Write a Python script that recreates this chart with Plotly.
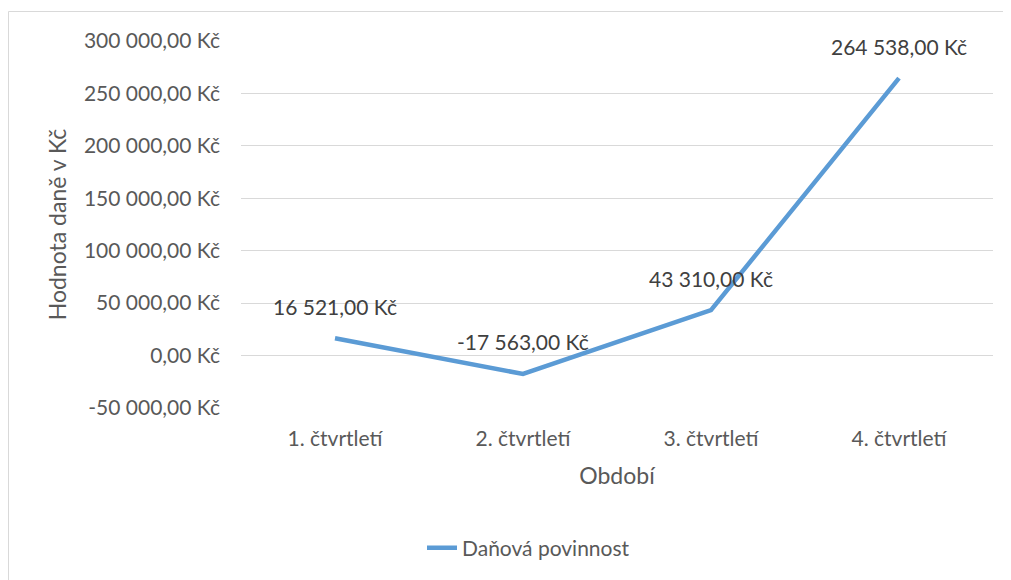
import plotly.graph_objects as go

categories = ["1. čtvrtletí", "2. čtvrtletí", "3. čtvrtletí", "4. čtvrtletí"]
values = [16521, -17563, 43310, 264538]
series_name = "Daňová povinnost"
tick_values = [-50000, 0, 50000, 100000, 150000, 200000, 250000, 300000]


def fmt_czk(v):
    s = f"{abs(v):,.2f}".replace(",", " ").replace(".", ",")
    return ("-" if v < 0 else "") + s + " Kč"


tick_text = [fmt_czk(v) for v in tick_values]

FONT = "Lato, 'Open Sans', sans-serif"
GRAY = "#595959"

# page body has an 8px margin; positions below are given in viewport pixels
OFFX, OFFY = 8, 8
W, H = 1011, 580
L = 241 - OFFX
T = 41 - OFFY
R = W - (993 - OFFX)
B = H - (408 - OFFY)
pw = W - L - R
ph = H - T - B


def vx(px):  # viewport px -> paper x
    return (px - OFFX - L) / pw


def vy(py):  # viewport px -> paper y
    return (H - B - (py - OFFY)) / ph


fig = go.Figure()
fig.add_trace(go.Scatter(
    x=categories, y=values, mode="lines", name=series_name,
    line=dict(color="#5B9BD5", width=4.5), showlegend=True,
))

for c, v in zip(categories, values):
    fig.add_annotation(x=c, y=v, text=fmt_czk(v), showarrow=False, yshift=32,
                       font=dict(family=FONT, size=21, color="#404040"))

# chart-area border (only top and left edges are visible in the reference)
border = dict(color="#D9D9D9", width=1)
fig.add_shape(type="line", xref="paper", yref="paper",
              x0=vx(8.5), x1=vx(1011), y0=vy(11.5), y1=vy(11.5), line=border, layer="below")
fig.add_shape(type="line", xref="paper", yref="paper",
              x0=vx(8.5), x1=vx(8.5), y0=vy(11.5), y1=vy(580), line=border, layer="below")

fig.update_layout(
    width=W, height=H,
    margin=dict(l=L, r=R, t=T, b=B, pad=0),
    paper_bgcolor="white", plot_bgcolor="white",
    font=dict(family=FONT, size=21, color=GRAY),
    xaxis=dict(
        type="category", range=[-0.5, 3.5], showgrid=False, zeroline=False, showline=False,
        ticks="", ticklabelstandoff=16,
        tickfont=dict(family=FONT, size=21, color=GRAY),
        title=dict(text="Období", font=dict(family=FONT, size=23, color=GRAY), standoff=18),
    ),
    yaxis=dict(
        range=[-50000, 300000], tickvals=tick_values, ticktext=tick_text,
        showgrid=True, gridcolor="#D9D9D9", gridwidth=1,
        zeroline=True, zerolinecolor="#D9D9D9", zerolinewidth=1,
        showline=False, ticks="", ticklabelstandoff=20,
        tickfont=dict(family=FONT, size=21, color=GRAY),
        title=dict(text="Hodnota daně v Kč", font=dict(family=FONT, size=23, color=GRAY), standoff=10),
    ),
    legend=dict(orientation="h", x=vx(414 + OFFX), xanchor="left",
                y=vy(548), yanchor="middle",
                font=dict(family=FONT, size=21, color=GRAY), bgcolor="rgba(0,0,0,0)"),
)

fig.write_html("out.html")
